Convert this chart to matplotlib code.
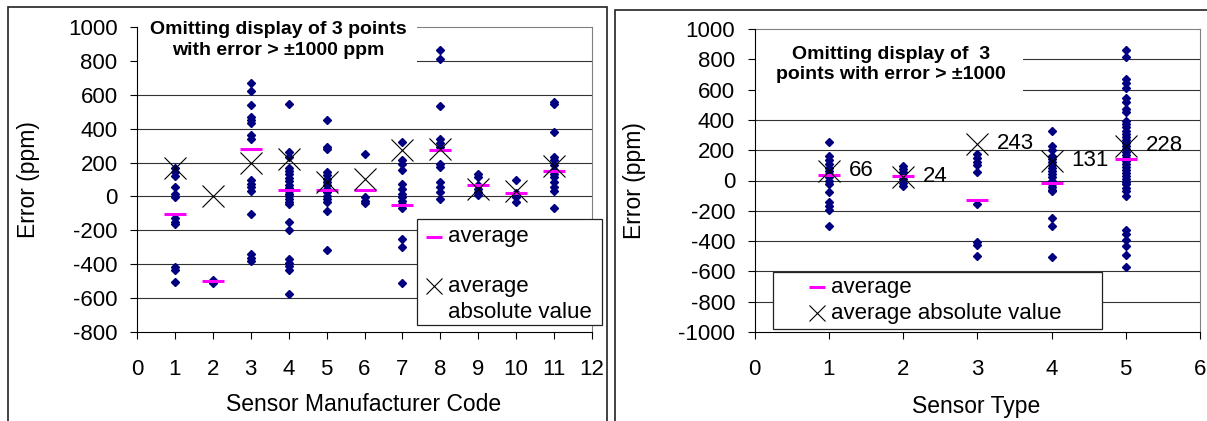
import matplotlib
matplotlib.use("Agg")
import matplotlib.pyplot as plt
from matplotlib.patches import Rectangle

plt.rcParams["font.family"] = ["Liberation Sans", "DejaVu Sans"]
plt.rcParams["axes.unicode_minus"] = False

# Left chart: error by sensor manufacturer code
mfr_codes = [1, 2, 3, 4, 5, 6, 7, 8, 9, 10, 11]
mfr_errors = [
    [170, 145, 122, 55, 15, -5, -130, -150, -165, -415, -432, -505],
    [-495, -510],
    [670, 623, 538, 469, 450, 434, 361, 341, 95, 75, 55, 31, -103, -339, -363, -383],
    [548, 262, 235, 170, 150, 130, 110, 90, 70, 50, 30, 15, 0, -15, -30, -43,
     -150, -200, -370, -390, -408, -434, -575],
    [454, 292, 282, 144, 125, 105, 85, 65, 45, 25, 5, -15, -34, -83, -315],
    [249, -4, -24, -39],
    [321, 213, 193, 154, 75, 45, 15, -5, -25, -45, -70, -250, -300, -513],
    [864, 809, 533, 341, 315, 292, 193, 174, 85, 55, 25, -18],
    [134, 114, 65, 45, 25, 6],
    [95, 20, -5, -30],
    [558, 548, 380, 233, 217, 183, 154, 134, 114, 85, 55, 35, -67],
]
mfr_avg = [-106, -501, 282, 40, 40, 40, -53, 272, 69, 20, 150]
mfr_abs_avg = [167, 0, 195, 223, 85, 104, 276, 282, 42, 35, 178]

# Right chart: error by sensor type
type_codes = [1, 2, 3, 4, 5]
type_errors = [
    [255, 160, 135, 110, 85, 60, 40, 20, 0, -25, -75, -140, -170, -195, -300],
    [99, 77, 55, 33, 11, -15, -37],
    [175, 150, 125, 105, 55, -155, -405, -425, -500],
    [325, 225, 200, 160, 140, 120, 100, 80, 60, 40, 20, 0, -20, -40, -60, -70,
     -245, -300, -505],
    [862, 815, 670, 645, 610, 545, 520, 470, 450, 390, 370, 350, 330, 310, 290,
     270, 250, 230, 210, 190, 170, 150, 130, 110, 90, 70, 50, 30, 10, -10, -25,
     -50, -70, -105, -330, -355, -390, -430, -495, -570],
]
type_avg = [35, 29, -127, -14, 142]
type_abs_avg = [66, 24, 243, 131, 228]

C_PT = "#000080"
C_AVG = "#FF00FF"
C_GRID = "#333333"
C_BORDER = "#808080"
FS = 16


def setup_axes(ax, xmax, ymin, ymax):
    ax.set_xlim(0, xmax)
    ax.set_ylim(ymin, ymax)
    ax.set_xticks(range(0, xmax + 1))
    yt = list(range(ymin, ymax + 1, 200))
    ax.set_yticks(yt)
    for v in yt[1:-1]:
        ax.axhline(v, color=C_GRID, lw=0.8, zorder=0.5)
    ax.spines["left"].set_color("black")
    ax.spines["bottom"].set_color("black")
    for s in ("top", "right"):
        ax.spines[s].set_color(C_BORDER)
        ax.spines[s].set_zorder(0.8)
    ax.tick_params(direction="out", length=5, width=0.8, labelsize=FS,
                   top=False, right=False)
    ax.tick_params(axis="x", pad=14.5)
    ax.tick_params(axis="y", pad=9)


def draw_points(ax, codes, errors, avg, abs_avg):
    for c, errs in zip(codes, errors):
        ax.plot([c] * len(errs), errs, linestyle="none", marker="D",
                ms=4.0, color=C_PT, zorder=3)
    ax.plot(codes, avg, linestyle="none", marker="_", ms=16.5, mew=2.2,
            color=C_AVG, zorder=4)
    ax.plot(codes, abs_avg, linestyle="none", marker="x", ms=16.5, mew=0.8,
            color="black", zorder=5)


fig = plt.figure(figsize=(12.07, 4.21), dpi=100)

# outer chart frames
fig.patches.append(Rectangle((0.0066, -0.05), 0.4967, 1.0334, transform=fig.transFigure,
                             fill=False, edgecolor="#222222", lw=1.2))
fig.patches.append(Rectangle((0.5095, -0.05), 0.52, 1.0262, transform=fig.transFigure,
                             fill=False, edgecolor="#222222", lw=1.2))

# ---- left chart ----
ax1 = fig.add_axes([137 / 1207, 1 - 332 / 421, 455 / 1207, 305 / 421])
ax1.patch.set_alpha(0)
setup_axes(ax1, 12, -800, 1000)
draw_points(ax1, mfr_codes, mfr_errors, mfr_avg, mfr_abs_avg)
ax1.set_ylabel("Error (ppm)", fontsize=16.5)
ax1.yaxis.set_label_coords(-0.213, 0.5)
ax1.set_xlabel("Sensor Manufacturer Code", fontsize=16.5, va="center")
ax1.xaxis.set_label_coords(0.499, -0.239)

ax1.add_patch(Rectangle((0.003, 0.826), 0.612, 0.23, transform=ax1.transAxes,
                        facecolor="white", edgecolor="none", zorder=1, clip_on=False))
ax1.text(0.31, 0.958, "Omitting display of 3 points\nwith error > \u00b11000 ppm",
         transform=ax1.transAxes, ha="center", va="center", fontsize=14,
         fontweight="bold", linespacing=1.35, zorder=6)

# legend (left)
ax1.add_patch(Rectangle((0.6154, 0.023), 0.4066, 0.3475, transform=ax1.transAxes,
                        facecolor="white", edgecolor="#222222", lw=0.9, zorder=6,
                        clip_on=False))
ax1.plot([0.6527], [0.3115], transform=ax1.transAxes, marker="_", ms=11, mew=2.2,
         color=C_AVG, zorder=7, clip_on=False)
ax1.plot([0.6527], [0.1508], transform=ax1.transAxes, marker="x", ms=11, mew=0.8,
         color="black", zorder=7, clip_on=False)
ax1.text(0.684, 0.3115, "average", transform=ax1.transAxes, fontsize=FS,
         va="center", ha="left", zorder=7)
ax1.text(0.684, 0.1508, "average", transform=ax1.transAxes, fontsize=FS,
         va="center", ha="left", zorder=7)
ax1.text(0.684, 0.0623, "absolute value", transform=ax1.transAxes, fontsize=FS,
         va="center", ha="left", zorder=7)

# ---- right chart ----
ax2 = fig.add_axes([754.5 / 1207, 1 - 332 / 421, 445.5 / 1207, 303 / 421])
ax2.patch.set_alpha(0)
setup_axes(ax2, 6, -1000, 1000)
draw_points(ax2, type_codes, type_errors, type_avg, type_abs_avg)
for c, v in zip(type_codes, type_abs_avg):
    ax2.annotate(str(v), (c, v), xytext=(14.4, 0), textcoords="offset points",
                 ha="left", va="center", fontsize=FS, zorder=6)
ax2.set_ylabel("Error (ppm)", fontsize=16.5)
ax2.yaxis.set_label_coords(-0.2435, 0.5)
ax2.set_xlabel("Sensor Type", fontsize=16.5, va="center")
ax2.xaxis.set_label_coords(0.4965, -0.246)

ax2.add_patch(Rectangle((0.003, 0.789), 0.6, 0.198, transform=ax2.transAxes,
                        facecolor="white", edgecolor="none", zorder=1, clip_on=False))
ax2.text(0.306, 0.883, "Omitting display of  3\npoints with error > \u00b11000",
         transform=ax2.transAxes, ha="center", va="center", fontsize=14,
         fontweight="bold", linespacing=1.3, zorder=6)

# legend (right)
ax2.add_patch(Rectangle((0.0415, 0.0099), 0.7385, 0.1891, transform=ax2.transAxes,
                        facecolor="white", edgecolor="#222222", lw=0.9, zorder=6,
                        clip_on=False))
ax2.plot([0.1396], [0.1485], transform=ax2.transAxes, marker="_", ms=11, mew=2.2,
         color=C_AVG, zorder=7, clip_on=False)
ax2.plot([0.1396], [0.0617], transform=ax2.transAxes, marker="x", ms=11, mew=0.8,
         color="black", zorder=7, clip_on=False)
ax2.text(0.171, 0.1485, "average", transform=ax2.transAxes, fontsize=FS,
         va="center", ha="left", zorder=7)
ax2.text(0.171, 0.0617, "average absolute value", transform=ax2.transAxes,
         fontsize=FS, va="center", ha="left", zorder=7)

fig.savefig("out.png", dpi=100, facecolor="white")
